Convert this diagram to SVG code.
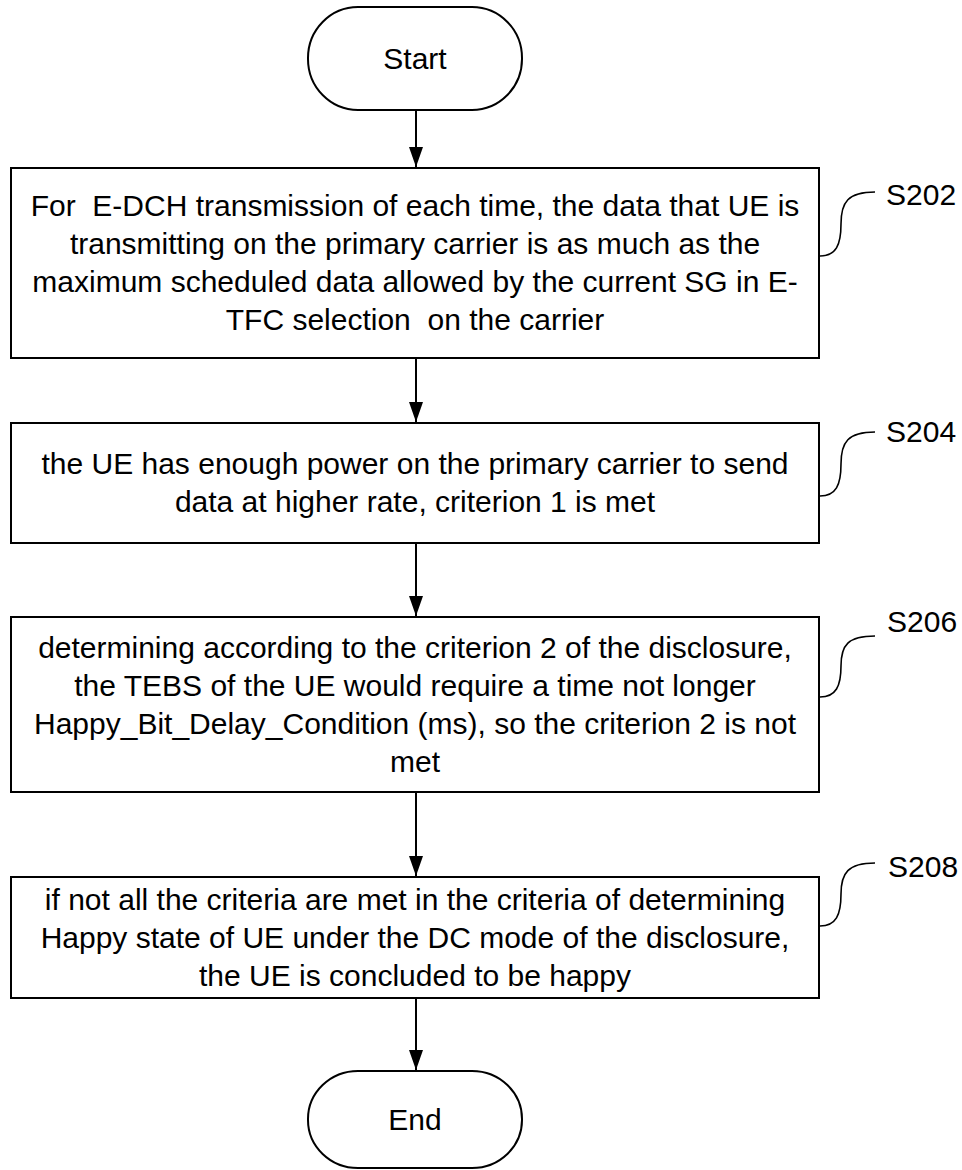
<svg xmlns="http://www.w3.org/2000/svg" width="962" height="1170" viewBox="0 0 962 1170">
<defs>
<style>
.box{fill:#fff;stroke:#000;stroke-width:2}
.term{fill:#fff;stroke:#000;stroke-width:2}
.t{font-family:"Liberation Sans",Arial,sans-serif;font-size:30px;fill:#000;text-anchor:middle;white-space:pre}
.lbl{font-family:"Liberation Sans",Arial,sans-serif;font-size:30px;fill:#000}
.conn{stroke:#000;stroke-width:2;fill:none}
.br{stroke:#000;stroke-width:1.6;fill:none}
</style>
<marker id="arr" markerUnits="userSpaceOnUse" markerWidth="20" markerHeight="14" refX="20" refY="7" orient="auto" viewBox="0 0 20 14">
<path d="M0,0 L20,7 L0,14 Z" fill="#000"/>
</marker>
</defs>
<rect width="962" height="1170" fill="#fff"/>
<g id="connectors">
<line class="conn" x1="416" y1="110" x2="416" y2="167" marker-end="url(#arr)"/>
<line class="conn" x1="416" y1="358" x2="416" y2="422" marker-end="url(#arr)"/>
<line class="conn" x1="416" y1="543" x2="416" y2="616" marker-end="url(#arr)"/>
<line class="conn" x1="416" y1="792" x2="416" y2="876" marker-end="url(#arr)"/>
<line class="conn" x1="416" y1="998" x2="416" y2="1070" marker-end="url(#arr)"/>
</g>
<g id="start">
<rect class="term" x="308" y="7" width="214" height="103" rx="50" ry="51"/>
<text class="t" x="415" y="69">Start</text>
</g>
<g id="s202">
<rect class="box" x="11" y="168" width="808" height="190"/>
<text class="t" x="415" y="216" xml:space="preserve">For  E-DCH transmission of each time, the data that UE is</text>
<text class="t" x="415" y="254">transmitting on the primary carrier is as much as the</text>
<text class="t" x="415" y="292">maximum scheduled data allowed by the current SG in E-</text>
<text class="t" x="415" y="330" xml:space="preserve">TFC selection  on the carrier</text>
<path class="br" d="M820,256 C836,256 841,245 841,224 C841,202 848,192 875,192"/>
<text class="lbl" x="886" y="205">S202</text>
</g>
<g id="s204">
<rect class="box" x="11" y="423" width="808" height="120"/>
<text class="t" x="415" y="474">the UE has enough power on the primary carrier to send</text>
<text class="t" x="415" y="512">data at higher rate, criterion 1 is met</text>
<path class="br" d="M820,496 C836,496 841,485 841,464 C841,442 848,432 875,432"/>
<text class="lbl" x="886" y="442">S204</text>
</g>
<g id="s206">
<rect class="box" x="11" y="617" width="808" height="175"/>
<text class="t" x="415" y="658">determining according to the criterion 2 of the disclosure,</text>
<text class="t" x="415" y="696">the TEBS of the UE would require a time not longer</text>
<text class="t" x="415" y="734">Happy_Bit_Delay_Condition (ms), so the criterion 2 is not</text>
<text class="t" x="415" y="772">met</text>
<path class="br" d="M820,697 C836,697 841,686 841,666 C841,645 848,636 875,636"/>
<text class="lbl" x="887" y="632">S206</text>
</g>
<g id="s208">
<rect class="box" x="11" y="877" width="808" height="121"/>
<text class="t" x="415" y="910">if not all the criteria are met in the criteria of determining</text>
<text class="t" x="415" y="948">Happy state of UE under the DC mode of the disclosure,</text>
<text class="t" x="415" y="986">the UE is concluded to be happy</text>
<path class="br" d="M820,926 C836,926 841,915 841,894 C841,873 848,863 875,863"/>
<text class="lbl" x="888" y="877">S208</text>
</g>
<g id="end">
<rect class="term" x="308" y="1071" width="214" height="97" rx="50" ry="48"/>
<text class="t" x="415" y="1130">End</text>
</g>
</svg>
